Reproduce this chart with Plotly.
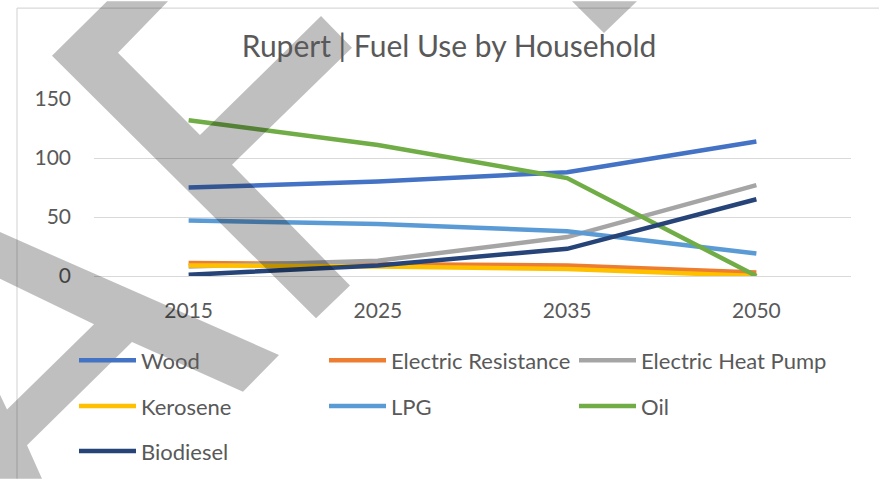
import plotly.graph_objects as go

# ---- data ----
years = ["2015", "2025", "2035", "2050"]
wood = [75, 80, 88, 114]
electric_resistance = [11, 10, 9, 3]
electric_heat_pump = [8, 13, 33, 77]
kerosene = [9, 8, 6, 0]
lpg = [47, 44, 38, 19]
oil = [132, 111, 83, 0]
biodiesel = [1, 9, 23, 65]

series_names = ["Wood", "Electric Resistance", "Electric Heat Pump", "Kerosene", "LPG", "Oil", "Biodiesel"]
series_values = [wood, electric_resistance, electric_heat_pump, kerosene, lpg, oil, biodiesel]
series_colors = ["#4472C4", "#ED7D31", "#A5A5A5", "#FFC000", "#5B9BD5", "#70AD47", "#264478"]
legend_slots = ["legend", "legend", "legend4", "legend2", "legend2", "legend2", "legend3"]

y_ticks = [0, 50, 100, 150]

FONT = "Lato, Calibri, Carlito, sans-serif"
TXT = "#595959"

W, H = 879, 482
# plot area in pixels
L, R, T, B = 94, 851, 98.7, 277.3

fig = go.Figure()
for name, vals, col, lg in zip(series_names, series_values, series_colors, legend_slots):
    fig.add_trace(go.Scatter(x=years, y=vals, name=name, mode="lines", legend=lg,
                             line=dict(color=col, width=4.5)))

def px2paper(x, y):
    return (x - L) / (R - L), (B - y) / (B - T)

def path(points):
    parts = []
    for i, (x, y) in enumerate(points):
        px_, py_ = px2paper(x, y)
        parts.append(("M" if i == 0 else "L") + f"{px_:.4f},{py_:.4f}")
    return " ".join(parts) + " Z"

wm_color = "rgba(0,0,0,0.25)"
watermarks = [
    # chevron shape upper-left
    [(52, 55), (107, 0), (168, 0), (118, 52), (200, 135), (321, 15), (352, 47),
     (232, 165), (350, 287), (316, 320)],
    # top triangle
    [(572, 0), (637, 0), (604, 32)],
    # lower-left shape
    [(0, 233), (279, 357), (243, 394), (132, 344), (27, 448), (42, 482), (0, 482),
     (0, 397), (7, 412), (94, 326), (0, 280)],
]
shapes = []
for pts in watermarks:
    shapes.append(dict(type="path", xref="paper", yref="paper", path=path(pts),
                       fillcolor=wm_color, line=dict(width=0), layer="above"))

# chart border (left + top)
bx0, by0 = px2paper(17, 7)
bx1, _ = px2paper(879, 7)
_, by1 = px2paper(17, 482)
shapes.append(dict(type="line", xref="paper", yref="paper", x0=bx0, y0=by0, x1=bx1, y1=by0,
                   line=dict(color="#D9D9D9", width=1.2), layer="below"))
shapes.append(dict(type="line", xref="paper", yref="paper", x0=bx0, y0=by0, x1=bx0, y1=by1,
                   line=dict(color="#D9D9D9", width=1.2), layer="below"))

def legend_cfg(x_px, row_center_y, ew=178):
    lx, ly = px2paper(x_px, row_center_y)
    return dict(orientation="h", x=lx, y=ly, xanchor="left", yanchor="middle",
                itemwidth=57, entrywidth=ew, entrywidthmode="pixels",
                font=dict(size=22, color=TXT),
                bgcolor="rgba(0,0,0,0)", traceorder="normal")

fig.update_layout(
    width=W, height=H,
    margin=dict(l=L, r=W - R, t=T, b=H - B, pad=0),
    paper_bgcolor="white", plot_bgcolor="white",
    font=dict(family=FONT, color=TXT, size=21),
    title=dict(text="Rupert | Fuel Use by Household", x=449 / W, xanchor="center",
               y=1 - 46 / H, yanchor="middle", font=dict(size=30, color=TXT, family=FONT)),
    xaxis=dict(type="category", range=[-0.5, 3.5], showgrid=False, showline=True,
               linecolor="#D9D9D9", linewidth=1.2, ticks="", ticklabelstandoff=16,
               tickfont=dict(size=21, color=TXT), zeroline=False),
    yaxis=dict(range=[0, 150], tickvals=y_ticks, showgrid=True, gridcolor="#D9D9D9",
               gridwidth=1.2, showline=False, zeroline=False, ticks="",
               ticklabelstandoff=22, tickfont=dict(size=21, color=TXT)),
    legend=legend_cfg(74, 361),
    legend4=legend_cfg(574, 361, ew=200),
    legend2=legend_cfg(74, 407),
    legend3=legend_cfg(74, 452),
    shapes=shapes,
    showlegend=True,
)

fig.write_html("out.html", config={"displayModeBar": False},
               post_script="document.body.style.margin='0';document.body.style.padding='0';")
